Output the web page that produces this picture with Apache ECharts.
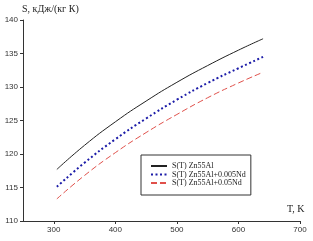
<!DOCTYPE html>
<html><head><meta charset="utf-8">
<script src="https://cdn.jsdelivr.net/npm/echarts@6/dist/echarts.min.js"></script>
<style>html,body{margin:0;padding:0;background:#fff}#c{width:313px;height:241px}</style>
</head><body><div id="c"></div>
<script>
const temps = [305, 350, 400, 450, 500, 550, 600, 640];
const sZn55Al = [117.7, 121.3, 124.8, 127.9, 130.7, 133.2, 135.5, 137.2];
const sZn55AlNd005 = [115.1, 118.7, 122.2, 125.3, 128.1, 130.6, 132.8, 134.5];
const sZn55AlNd05 = [113.3, 116.8, 120.2, 123.2, 125.9, 128.4, 130.6, 132.2];
const seriesNames = ['S(T) Zn55Al', 'S(T) Zn55Al+0.005Nd', 'S(T) Zn55Al+0.05Nd'];
const xTicks = [300, 400, 500, 600, 700];
const yTicks = [110, 115, 120, 125, 130, 135, 140];

const pair = arr => temps.map((t, i) => [t, arr[i]]);
const chart = echarts.init(document.getElementById('c'), null, {renderer: 'canvas'});
const serif = '"Liberation Serif", "DejaVu Serif", serif';
const sans = '"Liberation Sans", Arial, sans-serif';
chart.setOption({
  animation: false,
  backgroundColor: '#fff',
  grid: {left: 23, right: 13, top: 20, bottom: 20, containLabel: false},
  xAxis: {
    type: 'value', min: 250, max: 700,
    splitLine: {show: false},
    axisLine: {onZero: false, lineStyle: {color: '#333', width: 1}},
    axisTick: {show: true, inside: false, length: 3, lineStyle: {color: '#333'}, customValues: xTicks},
    axisLabel: {customValues: xTicks, color: '#333', fontSize: 8, fontFamily: sans, margin: 5}
  },
  yAxis: {
    type: 'value', min: 110, max: 140,
    splitLine: {show: false},
    axisLine: {show: true, onZero: false, lineStyle: {color: '#333', width: 1}},
    axisTick: {show: true, inside: false, length: 3, lineStyle: {color: '#333'}, customValues: yTicks},
    axisLabel: {customValues: yTicks, color: '#333', fontSize: 8, fontFamily: sans, margin: 5}
  },
  legend: {
    orient: 'vertical', left: 141, top: 155,
    itemWidth: 16, itemHeight: 9, itemGap: 0.5, itemTextGap: 3,
    padding: [7, 5, 8, 9],
    borderColor: '#333', borderWidth: 1,
    itemStyle: {opacity: 0},
    textStyle: {fontFamily: serif, fontSize: 8, color: '#222'},
    data: seriesNames
  },
  graphic: [
    {type: 'text', left: 22, top: 4, style: {text: 'S, кДж/(кг К)', font: '10px ' + serif, fill: '#222'}},
    {type: 'text', left: 287, top: 204, style: {text: 'T, K', font: '10px ' + serif, fill: '#222'}}
  ],
  series: [
    {name: seriesNames[0], type: 'line', smooth: true, symbol: 'none', data: pair(sZn55Al),
     lineStyle: {color: '#222', width: 1}, itemStyle: {color: '#222'}},
    {name: seriesNames[1], type: 'line', smooth: true, symbol: 'none', data: pair(sZn55AlNd005),
     lineStyle: {color: '#1c1ca8', width: 2, type: [2, 2.5]}, itemStyle: {color: '#1c1ca8'}},
    {name: seriesNames[2], type: 'line', smooth: true, symbol: 'none', data: pair(sZn55AlNd05),
     lineStyle: {color: '#e0504a', width: 1, type: [6, 3]}, itemStyle: {color: '#e0504a'}}
  ]
});
</script></body></html>
